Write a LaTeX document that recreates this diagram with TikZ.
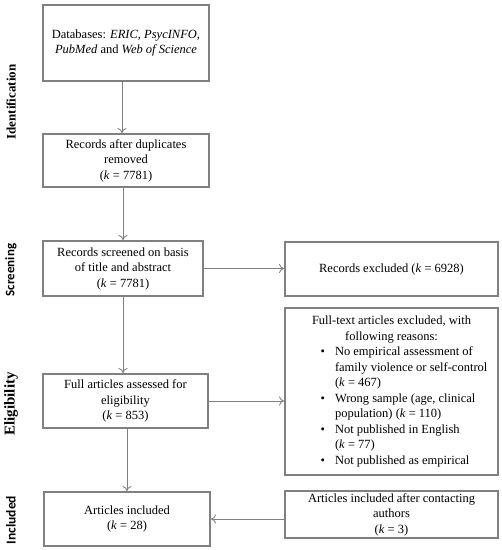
\documentclass[tikz,border=0pt]{standalone}
\usepackage{fontspec}
\setmainfont{Liberation Serif}
\newfontfamily\stagesans{Carlito}
\usepackage{tikz}
\usepackage{xcolor}
\definecolor{boxgray}{RGB}{128,128,128}
\tikzset{
    flow-box/.style = {draw=boxgray, line width=2pt, fill=white, rectangle, align=center, inner sep=2pt,
        font=\fontsize{12.5}{15.5}\selectfont},
    flow-arrow/.style = {draw=boxgray, line width=0.9pt, -{To[length=5pt,width=9pt]}},
    stage-label/.style = {rotate=90, font=\fontsize{13}{15}\selectfont\bfseries},
}
\usetikzlibrary{arrows.meta}

\begin{document}
\begin{tikzpicture}[x=1pt, y=-1pt]
\useasboundingbox (0,0) rectangle (502,550);
\node [flow-box, minimum width=166pt, minimum height=76pt] (db) at (126,43)
    {Databases: \textit{ERIC, PsycINFO,}\\ \textit{PubMed} and \textit{Web of Science}};
\node [flow-box, minimum width=166pt, minimum height=53pt] (dup) at (126,160.5)
    {Records after duplicates\\ removed\\ (\textit{k} = 7781)};
\node [flow-box, minimum width=160pt, minimum height=55pt] (screen) at (123,268.5)
    {Records screened on basis\\ of title and abstract\\ (\textit{k} = 7781)};
\node [flow-box, minimum width=165pt, minimum height=54pt] (full) at (125.5,401)
    {Full articles assessed for\\ eligibility\\ (\textit{k} = 853)};
\node [flow-box, minimum width=166pt, minimum height=54pt] (incl) at (127,519)
    {Articles included\\ (\textit{k} = 28)};
\node [flow-box, minimum width=213pt, minimum height=54pt] (recexcl) at (391.5,269)
    {Records excluded (\textit{k} = 6928)};
\node [flow-box, minimum width=213pt, minimum height=167pt] (ftexcl) at (391.5,391.5)
    {\begin{minipage}{205pt}
    \centering Full-text articles excluded, with\\ following reasons:
    \begin{list}{\textbullet}{\setlength{\leftmargin}{46pt}\setlength{\labelwidth}{10pt}%
        \setlength{\labelsep}{10pt}\setlength{\topsep}{0pt}\setlength{\itemsep}{0pt}%
        \setlength{\parsep}{0pt}\setlength{\partopsep}{0pt}}
    \raggedright
        \item No empirical assessment of\newline family violence or self-control\newline (\textit{k} = 467)
        \item Wrong sample (age, clinical\newline population) (\textit{k} = 110)
        \item Not published in English\newline (\textit{k} = 77)
        \item Not published as empirical
    \end{list}
    \end{minipage}};
\node [flow-box, minimum width=213pt, minimum height=45pt] (after) at (391.5,514.5)
    {Articles included after contacting\\ authors\\ (\textit{k} = 3)};

\node [stage-label] (ident) at (11,102) {Identification};
\node [stage-label, font=\fontsize{13}{15}\selectfont\bfseries\stagesans] (scr) at (11,270) {Screening};
\node [stage-label, font=\fontsize{15}{17}\selectfont\bfseries] (elig) at (11,404) {Eligibility};
\node [stage-label, font=\fontsize{13.5}{15}\selectfont\bfseries\stagesans] (inc) at (11,520) {Included};

\draw [flow-arrow] (db.south -| 122,0) -- (dup.north -| 122,0);
\draw [flow-arrow] (dup.south -| 123,0) -- (screen.north -| 123,0);
\draw [flow-arrow] (screen.south) -- (screen.south |- full.north);
\draw [flow-arrow] (full.south -| incl.north) -- (incl.north);
\draw [flow-arrow] (screen.east) -- (screen.east -| recexcl.west);
\draw [flow-arrow] (full.east) -- (full.east -| ftexcl.west);
\draw [flow-arrow] (incl.east -| after.west) -- (incl.east);
\end{tikzpicture}
\end{document}
